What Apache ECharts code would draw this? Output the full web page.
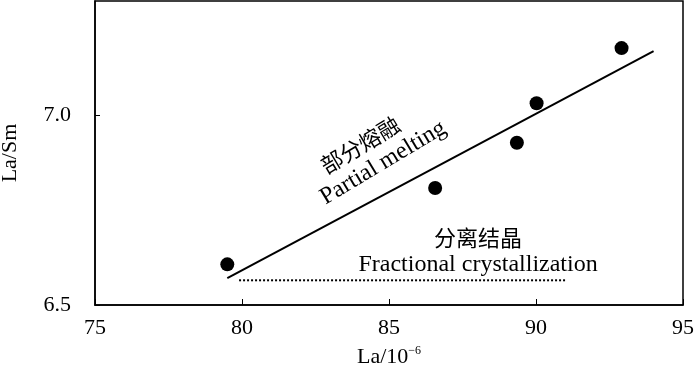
<!DOCTYPE html>
<html><head><meta charset="utf-8">
<script src="https://cdn.jsdelivr.net/npm/echarts@6/dist/echarts.min.js"></script>
<style>html,body{margin:0;padding:0;background:#fff}#c{width:700px;height:369px}</style>
</head><body><div id="c"></div>
<script>
// Data
const sampleLa = [79.5, 86.57, 89.35, 90.02, 92.91];
const sampleLaSm = [6.607, 6.808, 6.927, 7.031, 7.176];
const meltingLineLa = [79.5, 94.0];
const meltingLineLaSm = [6.571, 7.168];
const fractLineLa = [79.9, 91.05];
const fractLineLaSm = [6.565, 6.565];
const xTicks = [75, 80, 85, 90, 95];
const yTicks = [6.5, 7.0];
const annoText = ['部分熔融', 'Partial melting', '分离结晶', 'Fractional crystallization'];
const annoLa = [84.02, 84.80, 88.03, 88.03];
const annoLaSm = [6.921, 6.874, 6.678, 6.605];
const annoRotate = [31, 31, 0, 0];

const serif = '"Liberation Serif","Times New Roman",serif';
const cjk = '"Noto Sans CJK SC",serif';

const chart = echarts.init(document.getElementById('c'), null, {renderer: 'canvas'});
const pts = sampleLa.map((x, i) => [x, sampleLaSm[i]]);
const fit = meltingLineLa.map((x, i) => [x, meltingLineLaSm[i]]);
const fract = fractLineLa.map((x, i) => [x, fractLineLaSm[i]]);
const annos = annoText.map((t, i) => ({
  value: [annoLa[i], annoLaSm[i]],
  label: {
    show: true, position: 'inside', formatter: t, rotate: annoRotate[i],
    color: '#000', textBorderWidth: 0, opacity: 1,
    fontSize: i % 2 === 0 ? 22 : 24,
    fontFamily: i % 2 === 0 ? cjk : serif
  }
}));

chart.setOption({
  animation: false,
  grid: {left: 95, right: 17, top: 1, bottom: 64, show: true, borderColor: '#000', borderWidth: 1.5,
    outerBoundsMode: 'none', containLabel: false},
  xAxis: {
    type: 'value', min: 75, max: 95, interval: 5,
    name: 'La/10{sup|−6}', nameLocation: 'middle', nameGap: 40,
    nameTextStyle: {fontFamily: serif, fontSize: 22, color: '#000',
      rich: {sup: {fontFamily: serif, fontSize: 12, verticalAlign: 'top', padding: [0, 0, 12, 0], color: '#000'}}},
    axisLine: {lineStyle: {color: '#000', width: 1.5}},
    axisTick: {inside: true, length: 6, lineStyle: {color: '#000', width: 1}},
    axisLabel: {customValues: xTicks, fontFamily: serif, fontSize: 22, color: '#000', margin: 12},
    splitLine: {show: false}
  },
  yAxis: {
    type: 'value', min: 6.5, max: 7.3,
    name: 'La/Sm', nameLocation: 'middle', nameGap: 74, nameRotate: 90,
    nameTextStyle: {fontFamily: serif, fontSize: 22, color: '#000'},
    axisLine: {lineStyle: {color: '#000', width: 1.5}},
    axisTick: {inside: true, length: 5, customValues: yTicks, lineStyle: {color: '#000', width: 1}},
    axisLabel: {customValues: yTicks, fontFamily: serif, fontSize: 22, color: '#000', margin: 24,
      formatter: v => v.toFixed(1)},
    splitLine: {show: false}
  },
  series: [
    {type: 'line', data: fit, symbol: 'none', lineStyle: {color: '#000', width: 2}, z: 2},
    {type: 'line', data: fract, symbol: 'none', lineStyle: {color: '#000', width: 2, type: [2, 2]}, z: 2},
    {type: 'scatter', data: pts, symbol: 'circle', symbolSize: 14, itemStyle: {color: '#000', opacity: 1}, z: 3},
    {type: 'scatter', data: annos, symbolSize: 0, z: 4, silent: true}
  ]
});
</script></body></html>
